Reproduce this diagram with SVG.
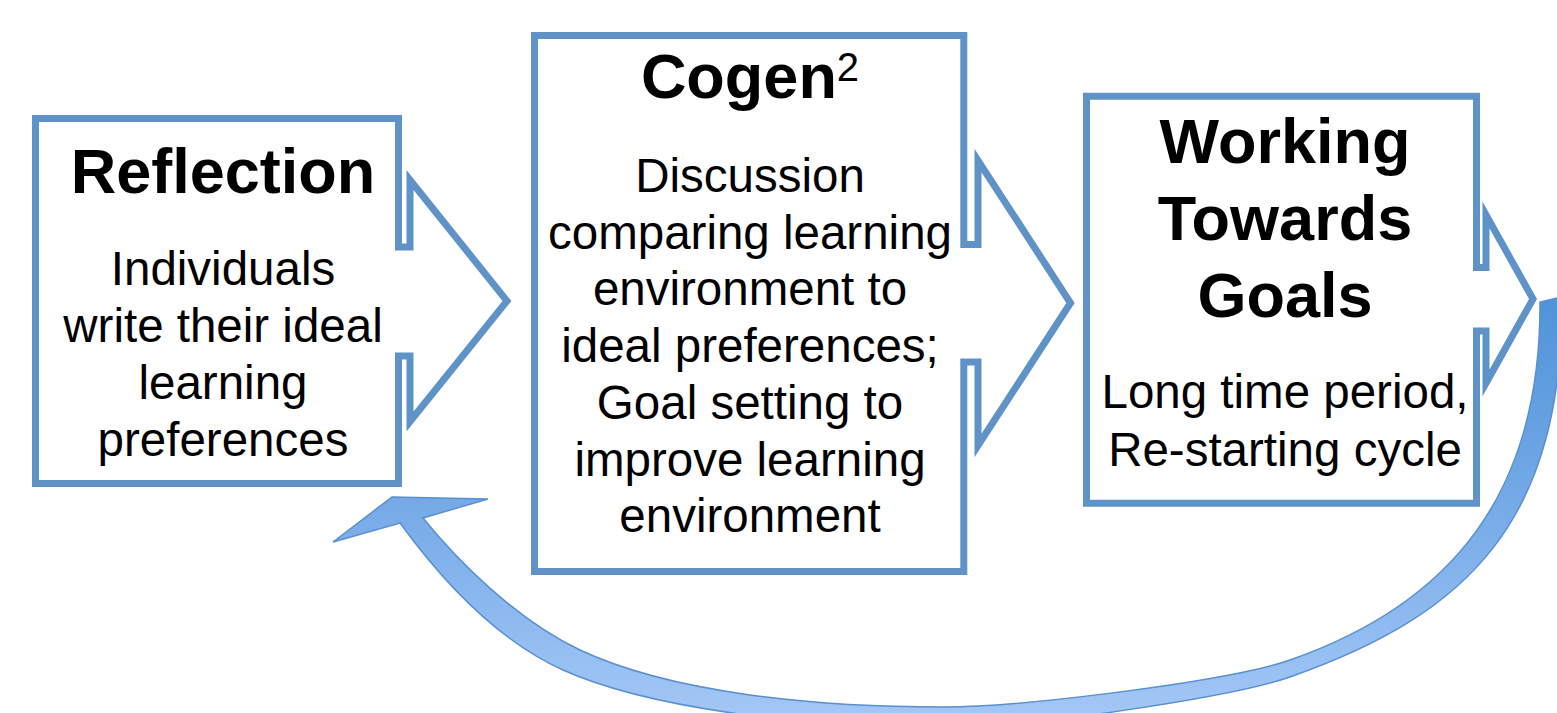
<svg xmlns="http://www.w3.org/2000/svg" width="1557" height="713" viewBox="0 0 1557 713">
  <defs>
    <linearGradient id="returnFill" gradientUnits="userSpaceOnUse" x1="0" y1="300" x2="0" y2="716">
      <stop offset="0" stop-color="#4f94d8"/>
      <stop offset="0.45" stop-color="#72a8e6"/>
      <stop offset="1" stop-color="#a3c7f6"/>
    </linearGradient>
    <style>
      .box { fill: #ffffff; stroke: #5f92c7; stroke-width: 7; stroke-linejoin: miter; stroke-miterlimit: 10; }
      .title { font-family: "Liberation Sans", Arial, sans-serif; font-weight: bold; font-size: 63px; fill: #000; text-anchor: middle; }
      .body { font-family: "Liberation Sans", Arial, sans-serif; font-size: 47.5px; fill: #000; text-anchor: middle; }
      .return { fill: url(#returnFill); stroke: #5a8fd0; stroke-width: 1.5; stroke-linejoin: miter; }
    </style>
  </defs>
  <rect width="1557" height="713" fill="#ffffff"/>

  <!-- curved return arrow from the last step back to the first (band widens towards the head) -->
  <g id="connectors">
    <path id="return-arrow" class="return" d="M 1562,297 L 1540,302
      C 1541,495 1450,604 1290,660
      C 1230,681 1023,707 943,707
      C 813,707 670.5,692.5 580,650
      C 516.6,620.25 457.7,560.9 423,518
      L 488,499 L 392,497 L 333,542 L 400,523
      C 441.3,579.7 494.75,639.25 563,670
      C 644.9,706.9 800,728 950,728
      C 1020,728 1230,698 1290,677
      C 1470,614 1562,520 1562,300 Z"/>
  </g>

  <!-- step 1 -->
  <g id="reflection">
    <path class="box" d="M 398.5,247 H 410 V 180 L 507,301 L 410,421.5 V 356 H 398.5 V 483.5 H 35.5 V 118.5 H 398.5 Z"/>
    <text class="title" x="223" y="193">Reflection</text>
    <text class="body" x="223" y="285">Individuals</text>
    <text class="body" x="223" y="342">write their ideal</text>
    <text class="body" x="223" y="399">learning</text>
    <text class="body" x="223" y="456">preferences</text>
  </g>

  <!-- step 2 -->
  <g id="cogen">
    <path class="box" d="M 963.8,244.5 H 978 V 160.5 L 1070.5,303 L 978,445.5 V 362 H 963.8 V 571.5 H 534.5 V 35.5 H 963.8 Z"/>
    <text class="title" x="750" y="98"><tspan>Cogen</tspan><tspan font-weight="normal" font-size="40" dy="-17.5">2</tspan></text>
    <text class="body" x="750" y="192">Discussion</text>
    <text class="body" x="750" y="249">comparing learning</text>
    <text class="body" x="750" y="305">environment to</text>
    <text class="body" x="750" y="362">ideal preferences;</text>
    <text class="body" x="750" y="419">Goal setting to</text>
    <text class="body" x="750" y="476">improve learning</text>
    <text class="body" x="750" y="532">environment</text>
  </g>

  <!-- step 3 -->
  <g id="working">
    <path class="box" d="M 1476.5,267.5 H 1486 V 215 L 1533,299 L 1486,383 V 331 H 1476.5 V 503.2 H 1086.5 V 96.2 H 1476.5 Z"/>
    <text class="title" x="1285" y="163">Working</text>
    <text class="title" x="1285" y="240">Towards</text>
    <text class="title" x="1285" y="317">Goals</text>
    <text class="body" x="1285" y="408">Long time period,</text>
    <text class="body" x="1285" y="466">Re-starting cycle</text>
  </g>
</svg>
